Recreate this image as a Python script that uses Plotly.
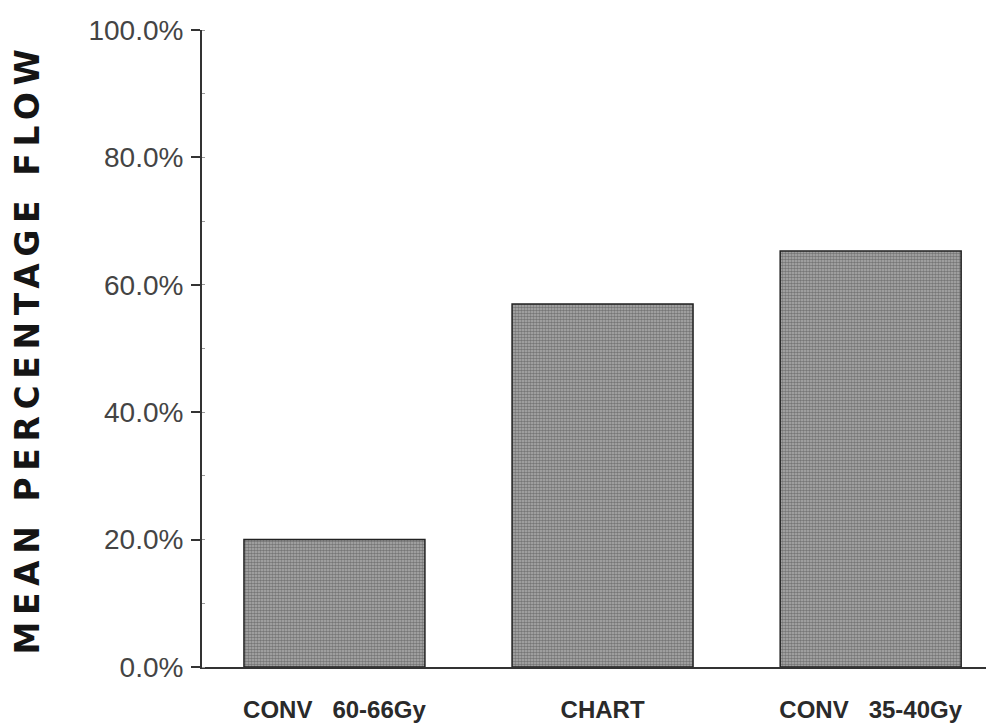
import plotly.graph_objects as go

categories = ["CONV\u00a0\u00a0 60-66Gy", "CHART", "CONV\u00a0\u00a0 35-40Gy"]
mean_flow = [0.200, 0.570, 0.653]
tick_vals = [0.0, 0.2, 0.4, 0.6, 0.8, 1.0]
tick_text = ["0.0%", "20.0%", "40.0%", "60.0%", "80.0%", "100.0%"]

# page body has an 8px margin, so the figure is sized to fit the window
W, H = 986, 718
L, R, T, B = 194, 0, 22, 59

fig = go.Figure()
fig.add_trace(go.Bar(
    x=[0, 1, 2],
    y=mean_flow,
    width=0.675,
    marker=dict(
        color="#aaaaaa",
        line=dict(color="#222222", width=1.5),
        pattern=dict(shape=".", size=3, solidity=0.6, fgcolor="#3c3c3c", bgcolor="#b0b0b0"),
    ),
    showlegend=False,
    hoverinfo="skip",
))

fig.update_layout(
    width=W, height=H,
    margin=dict(l=L, r=R, t=T, b=B, pad=0),
    paper_bgcolor="white",
    plot_bgcolor="white",
    xaxis=dict(
        range=[-0.494, 2.46],
        tickmode="array", tickvals=[0, 1, 2], ticktext=categories,
        showgrid=False, zeroline=False,
        showline=True, linecolor="#333333", linewidth=2,
        ticks="", ticklabelstandoff=20,
        tickfont=dict(family="Liberation Sans Narrow, Arial Narrow, Liberation Sans, sans-serif",
                      size=24, color="#2a2a2a", weight="bold"),
    ),
    yaxis=dict(
        range=[0, 1.0],
        tickmode="array", tickvals=tick_vals, ticktext=tick_text,
        showgrid=False, zeroline=False,
        showline=True, linecolor="#333333", linewidth=2,
        ticks="outside", ticklen=9, tickwidth=1.5, tickcolor="#333333",
        ticklabelstandoff=2,
        minor=dict(dtick=0.1, ticks="inside", ticklen=3, tickcolor="#999999", tickwidth=1),
        tickfont=dict(family="Liberation Sans Narrow, Arial Narrow, Liberation Sans, sans-serif",
                      size=28, color="#444444"),
        title=dict(text="MEAN PERCENTAGE FLOW", standoff=42,
                   font=dict(family="DejaVu Sans, sans-serif", size=33, color="#151515",
                             weight="bold")),
    ),
)

post = """
var t = document.querySelectorAll('.ytitle');
t.forEach(function(el){ el.style.letterSpacing = '6.6px'; });
"""
fig.write_html("out.html", post_script=post)
